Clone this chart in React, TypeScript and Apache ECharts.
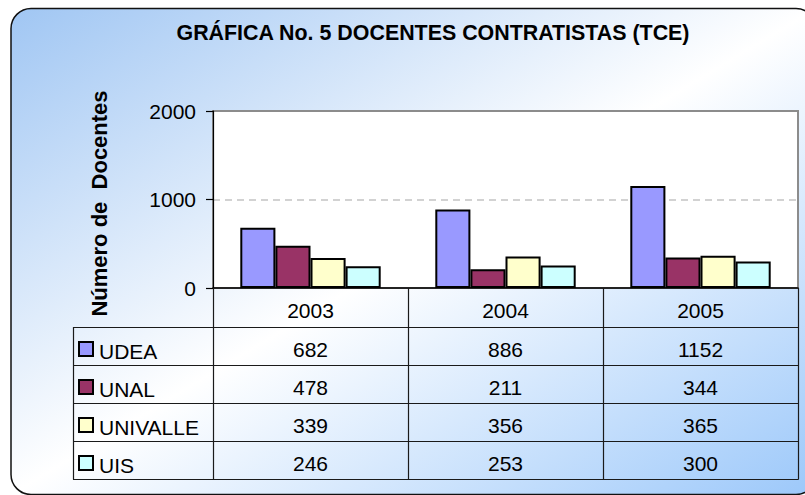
import React, { useEffect, useRef } from 'react';
import * as echarts from 'echarts';

const chartTitle = 'GRÁFICA No. 5 DOCENTES CONTRATISTAS (TCE)';
const yAxisName = 'Número de  Docentes';
const years = ['2003', '2004', '2005'];
const seriesNames = ['UDEA', 'UNAL', 'UNIVALLE', 'UIS'];
const udea = [682, 886, 1152];
const unal = [478, 211, 344];
const univalle = [339, 356, 365];
const uis = [246, 253, 300];
const seriesValues = [udea, unal, univalle, uis];
const seriesColors = ['#9999FF', '#993366', '#FFFFCC', '#CCFFFF'];
const yMin = 0;
const yMax = 2000;
const yInterval = 1000;

const W = 805;
const H = 495;
const GL = 213;
const GT = 111;
const GR = 798;
const GB = 288;
const TL = 73;
const HEADER_BOTTOM = 327;
const ROW_H = 38;
const FONT = '"Liberation Sans", Arial, Helvetica, sans-serif';
const LINE = '#1a1a1a';

function buildGraphic() {
  const els: any[] = [];
  els.push({
    type: 'rect',
    z: -100,
    silent: true,
    shape: { x: 11, y: 8.5, width: 805, height: 486, r: 20 },
    style: {
      fill: new echarts.graphic.LinearGradient(0, 0, 1, 1, [
        { offset: 0, color: '#A0C6F3' },
        { offset: 0.5, color: '#FFFFFF' },
        { offset: 1, color: '#9CC8FA' },
      ]),
      stroke: '#111',
      lineWidth: 1.5,
    },
  });
  els.push({
    type: 'text',
    z: 100,
    style: {
      text: chartTitle,
      x: 433,
      y: 33,
      align: 'center',
      verticalAlign: 'middle',
      fontFamily: FONT,
      fontSize: 21.4,
      fontWeight: 'bold',
      fill: '#000',
    },
  });
  const n = years.length;
  const cw = (GR - GL) / n;
  const tableBottom = HEADER_BOTTOM + ROW_H * seriesNames.length;
  for (let i = 0; i <= seriesNames.length; i++) {
    const y = Math.round(HEADER_BOTTOM + ROW_H * i) + 0.5;
    els.push({
      type: 'line',
      z: 100,
      shape: { x1: TL, y1: y, x2: GR + 0.5, y2: y },
      style: { stroke: LINE, lineWidth: 1.2 },
    });
  }
  els.push({
    type: 'line',
    z: 100,
    shape: { x1: TL + 0.5, y1: HEADER_BOTTOM, x2: TL + 0.5, y2: tableBottom + 0.5 },
    style: { stroke: LINE, lineWidth: 1.2 },
  });
  for (let i = 0; i <= n; i++) {
    const x = Math.round(GL + cw * i) + 0.5;
    els.push({
      type: 'line',
      z: 100,
      shape: { x1: x, y1: GB, x2: x, y2: tableBottom + 0.5 },
      style: { stroke: LINE, lineWidth: 1.2 },
    });
  }
  seriesNames.forEach((name, r) => {
    const top = HEADER_BOTTOM + ROW_H * r;
    els.push({
      type: 'rect',
      z: 100,
      shape: { x: 79, y: top + 15, width: 14, height: 14 },
      style: { fill: seriesColors[r], stroke: '#000', lineWidth: 2 },
    });
    els.push({
      type: 'text',
      z: 100,
      style: {
        text: name,
        x: 99,
        y: top + 24.5,
        align: 'left',
        verticalAlign: 'middle',
        fontFamily: FONT,
        fontSize: 21,
        fill: '#000',
      },
    });
    seriesValues[r].forEach((v, c) => {
      els.push({
        type: 'text',
        z: 100,
        style: {
          text: String(v),
          x: GL + cw * (c + 0.5),
          y: top + 22.5,
          align: 'center',
          verticalAlign: 'middle',
          fontFamily: FONT,
          fontSize: 21,
          fill: '#000',
        },
      });
    });
  });
  return els;
}

export default function App() {
  const ref = useRef<HTMLDivElement>(null);
  useEffect(() => {
    if (!ref.current) return;
    document.body.style.margin = '0';
    const chart = echarts.init(ref.current, undefined, { renderer: 'svg', width: W, height: H });
    const option: any = {
      animation: false,
      backgroundColor: '#ffffff',
      textStyle: { fontFamily: FONT },
      grid: {
        left: GL,
        top: GT,
        width: GR - GL,
        height: GB - GT,
        show: true,
        backgroundColor: '#ffffff',
        borderColor: '#8c8c8c',
        borderWidth: 2,
        containLabel: false,
        outerBoundsMode: 'none',
      },
      xAxis: {
        type: 'category',
        data: years,
        axisLine: { show: true, lineStyle: { color: '#000', width: 1.5 } },
        axisTick: { show: false },
        axisLabel: {
          margin: 22,
          verticalAlign: 'middle',
          fontFamily: FONT,
          fontSize: 21,
          color: '#000',
        },
        splitLine: { show: false },
      },
      yAxis: {
        type: 'value',
        min: yMin,
        max: yMax,
        interval: yInterval,
        name: yAxisName,
        nameLocation: 'middle',
        nameGap: 103,
        nameRotate: 90,
        nameTextStyle: {
          fontFamily: FONT,
          fontSize: 22,
          fontWeight: 'bold',
          color: '#000',
          padding: [0, 8, 0, 0],
        },
        axisLine: { show: true, lineStyle: { color: '#000', width: 1.2 } },
        axisTick: { show: true, length: 7, lineStyle: { color: '#000', width: 1.2 } },
        axisLabel: {
          margin: 17,
          fontFamily: FONT,
          fontSize: 21,
          color: '#000',
          formatter: (v: number) => String(v),
        },
        splitLine: {
          show: true,
          showMinLine: false,
          showMaxLine: false,
          lineStyle: { color: '#c4c4c4', width: 1.5, type: [7, 5] },
        },
      },
      series: seriesNames.map((name, i) => ({
        name,
        type: 'bar',
        data: seriesValues[i],
        barGap: '0%',
        barCategoryGap: '28%',
        itemStyle: { color: seriesColors[i], borderColor: '#000', borderWidth: 2 },
      })),
      graphic: buildGraphic(),
    };
    chart.setOption(option);
    return () => chart.dispose();
  }, []);
  return <div ref={ref} style={{ position: 'absolute', left: 0, top: 0, width: W, height: H }} />;
}
